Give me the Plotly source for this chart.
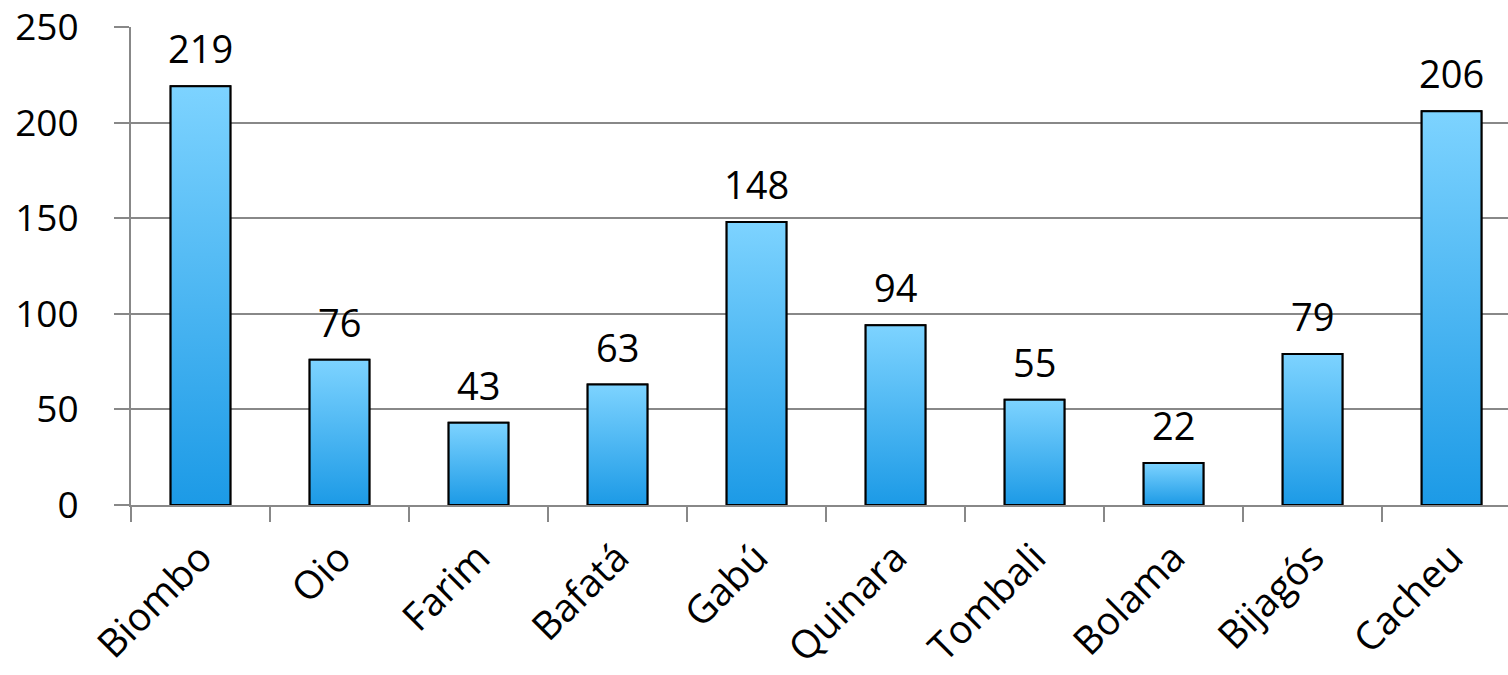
import plotly.graph_objects as go

categories = ["Biombo", "Oio", "Farim", "Bafatá", "Gabú", "Quinara", "Tombali", "Bolama", "Bijagós", "Cacheu"]
values = [219, 76, 43, 63, 148, 94, 55, 22, 79, 206]
y_ticks = [0, 50, 100, 150, 200, 250]

FONT = "Open Sans"
BAR_W = 0.43
TOP_C = "#7DD3FF"
BOT_C = "#1C9AE6"
XR = [-0.5, 9.406]

fig = go.Figure()

# real bar trace (solid base)
fig.add_trace(go.Bar(
    x=categories, y=values, width=BAR_W,
    marker=dict(color="#4AB6F2", line=dict(color="black", width=2)),
    xaxis="x", yaxis="y", showlegend=False,
))

# gradient overlay for each bar, derived from the data
for i, v in enumerate(values):
    x0, x1 = i - BAR_W / 2, i + BAR_W / 2
    fig.add_trace(go.Scatter(
        x=[x0, x1, x1, x0, x0], y=[0, 0, v, v, 0],
        mode="lines", fill="toself",
        fillgradient=dict(type="vertical", start=0, stop=v,
                          colorscale=[[0, BOT_C], [1, TOP_C]]),
        line=dict(color="black", width=2),
        xaxis="x2", yaxis="y", showlegend=False, hoverinfo="skip",
    ))

# value labels
for c, v in zip(categories, values):
    fig.add_annotation(
        x=c, y=v, xref="x", yref="y", text=str(v), showarrow=False,
        yanchor="bottom", yshift=10,
        font=dict(family=FONT, size=38, color="black"),
    )

fig.update_layout(
    width=1508, height=675,
    margin=dict(l=131, r=0, t=27, b=170, autoexpand=False),
    paper_bgcolor="white", plot_bgcolor="white",
    font=dict(family=FONT, size=36, color="black"),
    xaxis=dict(
        type="category", range=XR, tickson="boundaries",
        ticks="outside", ticklen=15, tickwidth=2, tickcolor="#888888",
        showline=True, linecolor="#888888", linewidth=2,
        showgrid=False, tickangle=-45, automargin=False,
        tickfont=dict(family=FONT, size=39, color="black"),
        ticklabelstandoff=12,
    ),
    xaxis2=dict(overlaying="x", range=XR, visible=False, type="linear"),
    yaxis=dict(
        range=[0, 250.001], tickvals=y_ticks, ticks="outside", ticklen=15,
        tickwidth=2, tickcolor="#888888",
        showline=True, linecolor="#888888", linewidth=2,
        showgrid=True, gridcolor="#888888", gridwidth=2,
        zeroline=False, automargin=False,
        tickfont=dict(family=FONT, size=37, color="black"),
        ticklabelstandoff=28, ticklabeloverflow="allow",
    ),
)

fig.write_html("out.html")
